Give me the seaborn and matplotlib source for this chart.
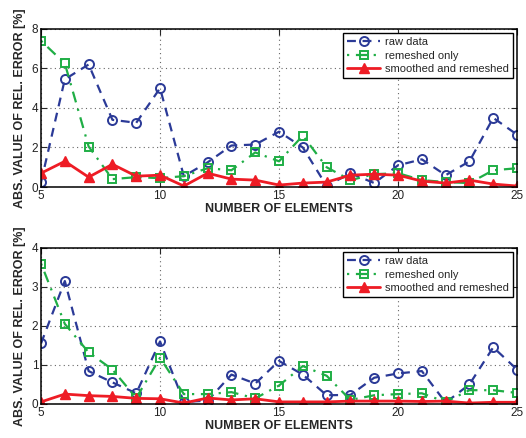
import numpy as np
import pandas as pd
import matplotlib
matplotlib.use("Agg")
import matplotlib.pyplot as plt
import seaborn as sns

# number of elements on the x axis
n_elements = list(range(5, 26))

# top panel
top_raw = [0.25, 5.45, 6.2, 3.4, 3.25, 5.0, 0.55, 1.25, 2.1, 2.15, 2.8, 2.0, 0.05,
           0.7, 0.2, 1.1, 1.4, 0.6, 1.3, 3.5, 2.65]
top_remeshed = [7.4, 6.25, 2.05, 0.4, 0.5, 0.45, 0.55, 0.95, 0.85, 1.75, 1.3, 2.6, 1.0,
                0.35, 0.65, 0.7, 0.35, 0.25, 0.2, 0.85, 0.95]
top_smoothed = [0.7, 1.3, 0.5, 1.15, 0.55, 0.6, 0.05, 0.7, 0.4, 0.35, 0.1, 0.2, 0.25,
                0.6, 0.65, 0.6, 0.3, 0.2, 0.35, 0.15, 0.05]

# bottom panel
bot_raw = [1.55, 3.15, 0.84, 0.55, 0.27, 1.6, 0.05, 0.08, 0.75, 0.52, 1.1, 0.75, 0.22,
           0.23, 0.67, 0.78, 0.84, 0.03, 0.5, 1.45, 0.88]
bot_remeshed = [3.6, 2.05, 1.32, 0.88, 0.15, 1.18, 0.25, 0.25, 0.3, 0.14, 0.47, 0.97, 0.72,
                0.1, 0.22, 0.25, 0.27, 0.05, 0.35, 0.35, 0.28]
bot_smoothed = [0.05, 0.25, 0.21, 0.19, 0.14, 0.13, 0.02, 0.15, 0.1, 0.13, 0.05, 0.05, 0.05,
                0.07, 0.07, 0.07, 0.06, 0.07, 0.02, 0.04, 0.04]

series_names = ["raw data", "remeshed only", "smoothed and remeshed"]
y_limits = [8, 4]

BLUE = "#2b3a97"
GREEN = "#1fae45"
RED = "#ee1c25"

sns.set_style("ticks")
plt.rcParams["font.family"] = ["Liberation Sans", "DejaVu Sans"]
plt.rcParams["xtick.direction"] = "in"
plt.rcParams["ytick.direction"] = "in"

fig = plt.figure(figsize=(5.26, 4.38), dpi=100)
ax_top = fig.add_axes([0.078, 0.573, 0.905, 0.361])
ax_bot = fig.add_axes([0.078, 0.078, 0.905, 0.356])

panels = [(ax_top, top_raw, top_remeshed, top_smoothed, y_limits[0]),
          (ax_bot, bot_raw, bot_remeshed, bot_smoothed, y_limits[1])]

for ax, raw, rem, smo, ymax in panels:
    df = pd.DataFrame({"n": n_elements, "raw": raw, "rem": rem, "smo": smo})
    sns.lineplot(data=df, x="n", y="raw", ax=ax, color=BLUE, linestyle=(0, (4, 3)),
                 lw=1.6, marker="o", ms=6.5, mfc="none", mec=BLUE, mew=1.4,
                 label=series_names[0])
    sns.lineplot(data=df, x="n", y="rem", ax=ax, color=GREEN, linestyle=(0, (1, 3, 5, 3)),
                 lw=1.6, marker="s", ms=5.5, mfc="none", mec=GREEN, mew=1.4,
                 label=series_names[1])
    sns.lineplot(data=df, x="n", y="smo", ax=ax, color=RED, linestyle="-",
                 lw=2, marker="^", ms=7, mfc=RED, mec=RED, mew=1.0,
                 label=series_names[2])

    ax.set_xlim(5, 25)
    ax.set_ylim(0, ymax)
    ax.set_xticks([5, 10, 15, 20, 25])
    ax.set_yticks(np.arange(0, ymax + 1, 2 if ymax == 8 else 1))
    ax.grid(True, linestyle=(0, (1, 3)), color="#666666", lw=0.8)
    ax.tick_params(labelsize=8.5, top=True, right=True, length=4, width=0.8, pad=2,
                   labelcolor="#222222")
    for sp in ax.spines.values():
        sp.set_linewidth(1.1)
        sp.set_color("black")
    ax.set_xlabel("NUMBER OF ELEMENTS", fontsize=9, fontweight="bold", labelpad=1)
    ax.set_ylabel("ABS. VALUE OF REL. ERROR [%]", fontsize=9, fontweight="bold",
                  labelpad=4)
    leg = ax.legend(loc="upper right", fontsize=8, fancybox=False, framealpha=1,
                    edgecolor="black", handlelength=3.0, borderaxespad=0.4,
                    labelspacing=0.3, borderpad=0.35, handletextpad=0.4)
    leg.get_frame().set_linewidth(1.0)

fig.savefig("out.png", dpi=100)
